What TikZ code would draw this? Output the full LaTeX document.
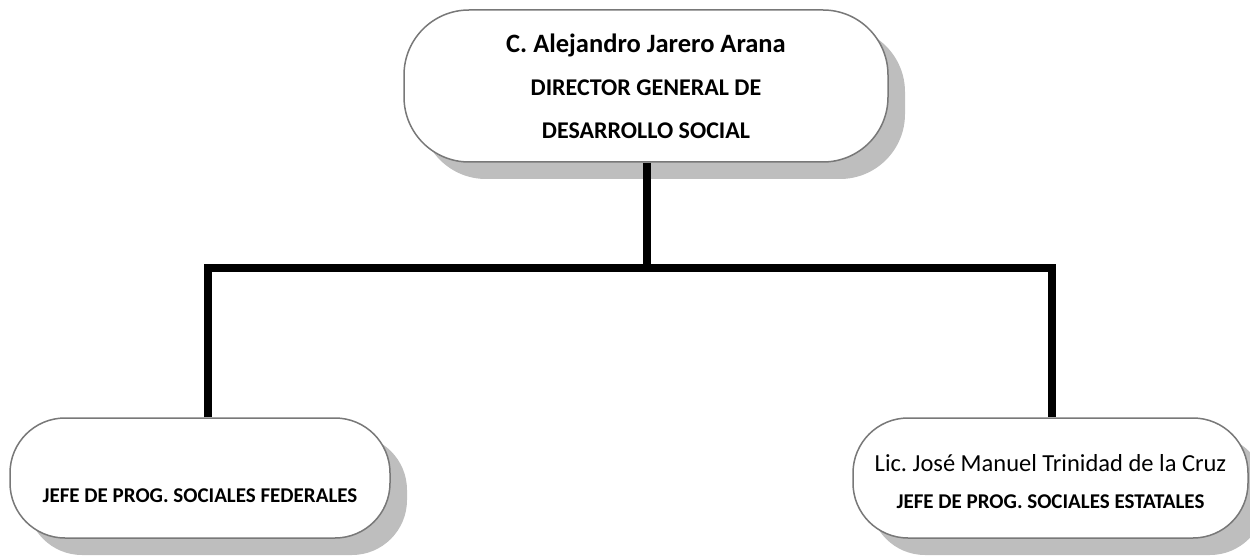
\documentclass[tikz,border=0pt]{standalone}
\usepackage{fontspec}
\setmainfont{Carlito}
\frenchspacing
\usetikzlibrary{shadows}
\definecolor{shadowgray}{RGB}{190,190,190}
\definecolor{bordergray}{RGB}{120,120,120}
\tikzset{
  orgbox/.style={draw=bordergray, line width=1.5pt, fill=white, inner sep=0pt, align=center,
    drop shadow={shadow xshift=17pt, shadow yshift=-17pt, fill=shadowgray, opacity=1}},
  conn/.style={line width=8pt, black, line join=miter}
}
\begin{document}
\begin{tikzpicture}[x=1pt,y=-1pt]
\useasboundingbox (0,0) rectangle (1250,556);
\node[orgbox, rounded corners=65pt, minimum width=484pt, minimum height=152pt,
  font={\fontsize{24}{43}\selectfont\bfseries}] (top) at (646,86)
  {{\fontsize{26.5}{43}\selectfont C.\ Alejandro Jarero Arana}\\
   DIRECTOR GENERAL DE\\
   DESARROLLO SOCIAL};
\node[orgbox, rounded corners=55pt, minimum width=380pt, minimum height=120pt,
  font={\fontsize{21}{39}\selectfont\bfseries}] (fed) at (200,478)
  {\strut\\[-18pt]
   JEFE DE PROG.\ SOCIALES FEDERALES};
\node[orgbox, rounded corners=55pt, minimum width=395pt, minimum height=120pt,
  font={\fontsize{21}{39}\selectfont\bfseries}] (est) at (1050.5,478)
  {{\mdseries\fontsize{24.5}{39}\selectfont\rule{0pt}{24pt}Lic.\ José Manuel Trinidad de la Cruz}\\[-2pt]
   JEFE DE PROG.\ SOCIALES ESTATALES};
\coordinate (jl) at (208,268);
\coordinate (jr) at (1052,268);
\coordinate (jt) at (647,268);
\draw[conn] (top.south -| jt) -- (jt);
\draw[conn] (jl |- fed.north) -- (jl) -- (jr) -- (jr |- est.north);
\end{tikzpicture}
\end{document}
